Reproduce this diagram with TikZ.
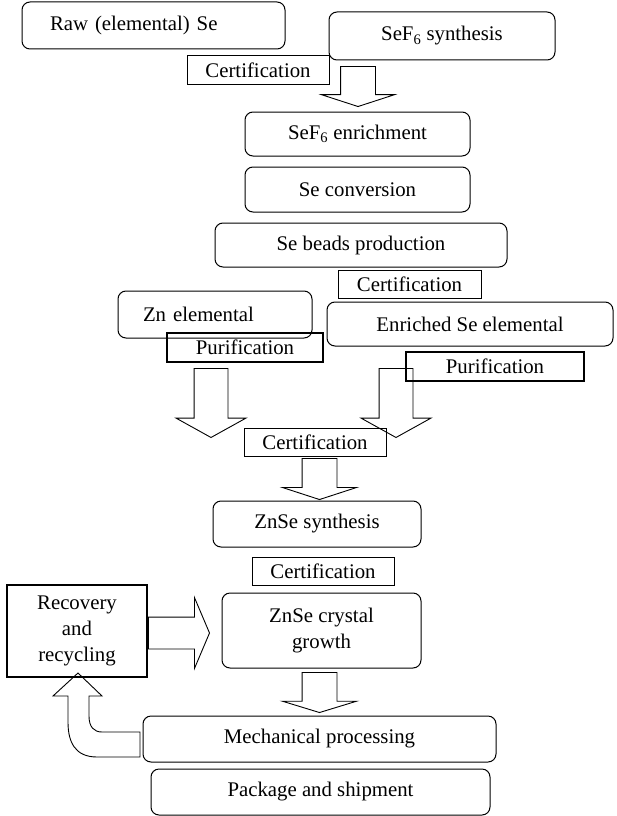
\documentclass[tikz,border=0pt]{standalone}
\usepackage{fontspec}
\setmainfont{Liberation Serif}
\usetikzlibrary{shapes.arrows}

\tikzstyle{process}=[
  draw,
  rounded corners=8pt,
  line width=1pt,
  inner sep=0pt,
  ]
\tikzstyle{cert}=[ draw, line width=1pt, inner sep=0pt, minimum width=142pt, minimum height=28pt ]
\tikzstyle{heavy box}=[ draw, line width=2.4pt, inner sep=0pt ]
\tikzstyle{block arrow}=[
  single arrow,
  draw,
  line width=0.9pt,
  inner sep=0pt,
  anchor=tip,
  ]
\tikzstyle{pointing down}=[ shape border rotate=270 ]
\tikzstyle{loop arrow}=[ draw, line width=0.9pt ]

\begin{document}
\begin{tikzpicture}[
    x=1pt, y=1pt,
    every node/.style={font=\fontsize{20.8}{26}\selectfont},
    ]
    \useasboundingbox (0,0) rectangle (616,-816);

    \node[process, minimum width=263pt, minimum height=47pt, text width=207pt, inner xsep=28pt, align=left] (raw) at (153.5,-25.5) {Raw (elemental) Se};
    \node[process, minimum width=226pt, minimum height=48pt] (synth) at (442,-36) {SeF\textsubscript{6} synthesis};
    \node[cert] (cert1) at (258,-70) {Certification};
    \node[block arrow, pointing down, minimum height=40pt, inner xsep=17pt, single arrow head extend=19pt, single arrow tip angle=144] (arr1) at (358,-107) {};

    \node[process, minimum width=225pt, minimum height=44pt] (enrich) at (357.5,-134) {SeF\textsubscript{6} enrichment};
    \node[process, minimum width=225pt, minimum height=45pt] (conv) at (357.5,-189.5) {Se conversion};
    \node[process, minimum width=292pt, minimum height=44pt] (beads) at (361,-245) {Se beads production};
    \node[cert, minimum width=143pt] (cert2) at (409.5,-284) {Certification};

    \node[process, minimum width=194pt, minimum height=47pt, text width=144pt, inner xsep=25pt, align=left] (zn) at (215,-314.5) {Zn elemental};
    \node[process, minimum width=286pt, minimum height=44pt] (sel) at (470,-324) {Enriched Se elemental};
    \node[heavy box, minimum width=156pt, minimum height=29pt] (pur1) at (245,-347.5) {Purification};
    \node[heavy box, minimum width=178pt, minimum height=29pt] (pur2) at (495,-366.5) {Purification};
    \node[block arrow, pointing down, minimum height=69pt, inner xsep=16.5pt, single arrow head extend=18pt, single arrow tip angle=122] (arrL) at (211,-438) {};
    \node[block arrow, pointing down, minimum height=69pt, inner xsep=16.5pt, single arrow head extend=18pt, single arrow tip angle=122] (arrR) at (396,-438) {};
    \node[cert] (cert3) at (315,-442.5) {Certification};
    \node[block arrow, pointing down, minimum height=41pt, inner xsep=17pt, single arrow head extend=19.5pt, single arrow tip angle=144] (arr3) at (319.5,-500) {};

    \node[process, minimum width=208pt, minimum height=46pt] (znse) at (317,-524) {ZnSe synthesis};
    \node[cert] (cert4) at (323,-571) {Certification};

    \node[heavy box, minimum width=140pt, minimum height=92pt, align=center] (rec) at (77,-631) {Recovery\\and\\recycling};
    \node[block arrow, minimum height=61pt, inner ysep=15.5pt, single arrow head extend=19.5pt, single arrow tip angle=134] (arr4) at (210,-633) {};
    \node[process, minimum width=199pt, minimum height=75pt, align=center] (grow) at (321.5,-630.5) {ZnSe crystal\\growth};
    \node[block arrow, pointing down, minimum height=40pt, inner xsep=17pt, single arrow head extend=19.5pt, single arrow tip angle=146] (arr5) at (319.5,-713) {};

    \node[process, minimum width=353pt, minimum height=46pt] (mech) at (319.5,-739) {Mechanical processing};
    \node[process, minimum width=339pt, minimum height=46pt] (pack) at (320.5,-792) {Package and shipment};

    % back to recovery
    \coordinate (loop tip) at (78,-673);
    \draw[loop arrow] (loop tip) -- ++(24,-23) -- ++(-13,0) -- ++(0,-20)
      .. controls +(0,-11) and +(-8,0) .. ++(13,-16) -- ++(38,0) -- ++(0,-25) -- ++(-43,0)
      .. controls +(-22,0) and +(0,-20) .. ++(-29,35) -- ++(0,26) -- ++(-15,0) -- cycle;
  \end{tikzpicture}
\end{document}
